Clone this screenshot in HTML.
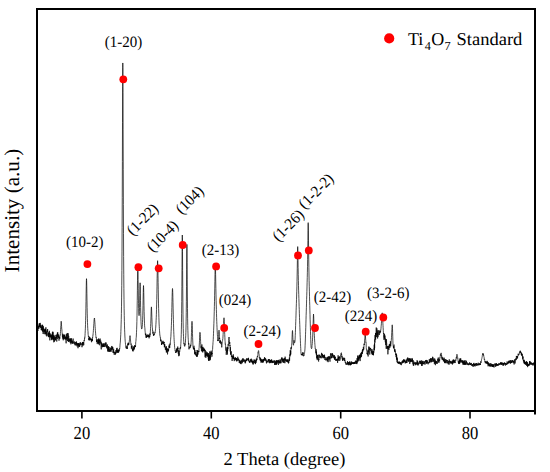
<!DOCTYPE html>
<html><head><meta charset="utf-8"><style>
html,body{margin:0;padding:0;background:#fff;}
svg{display:block;}
text{font-family:"Liberation Serif",serif;fill:#000;text-rendering:geometricPrecision;}
</style></head><body>
<svg width="550" height="472" viewBox="0 0 550 472">
<rect x="0" y="0" width="550" height="472" fill="#fff"/>
<defs><filter id="bl" x="-5%" y="-5%" width="110%" height="110%"><feGaussianBlur stdDeviation="0.3"/></filter></defs>
<polyline points="37.00,328.29 37.12,328.99 37.25,327.97 37.38,326.95 37.50,327.60 37.62,326.81 37.75,328.95 37.88,331.01 38.00,326.96 38.12,325.97 38.25,328.66 38.38,328.42 38.50,328.04 38.62,326.03 38.75,327.59 38.88,328.75 39.00,324.62 39.12,326.07 39.25,323.23 39.38,324.61 39.50,323.66 39.62,327.11 39.75,324.84 39.88,327.20 40.00,326.99 40.12,326.31 40.25,322.90 40.38,325.94 40.50,327.56 40.62,327.97 40.75,324.88 40.88,326.79 41.00,325.46 41.12,325.56 41.25,330.14 41.38,326.57 41.50,328.37 41.62,330.27 41.75,326.95 41.88,327.82 42.00,328.00 42.12,327.91 42.25,324.71 42.38,327.93 42.50,331.57 42.62,324.96 42.75,330.65 42.88,328.75 43.00,327.76 43.12,333.94 43.25,330.79 43.38,326.23 43.50,328.86 43.62,330.07 43.75,329.10 43.88,331.88 44.00,330.24 44.12,332.15 44.25,334.20 44.38,329.78 44.50,331.19 44.62,329.84 44.75,331.47 44.88,328.68 45.00,330.73 45.12,331.95 45.25,333.42 45.38,334.21 45.50,329.03 45.62,330.65 45.75,334.07 45.88,327.30 46.00,331.21 46.12,332.01 46.25,335.56 46.38,333.85 46.50,331.73 46.62,331.97 46.75,332.36 46.88,336.43 47.00,330.85 47.12,330.34 47.25,331.93 47.38,331.11 47.50,331.28 47.62,329.00 47.75,331.88 47.88,331.79 48.00,335.67 48.12,334.24 48.25,333.36 48.38,334.62 48.50,332.70 48.62,336.70 48.75,334.70 48.88,337.09 49.00,332.62 49.12,337.22 49.25,332.66 49.38,330.84 49.50,334.43 49.62,332.82 49.75,335.19 49.88,340.37 50.00,333.36 50.12,334.40 50.25,336.76 50.38,337.01 50.50,335.16 50.62,335.28 50.75,337.41 50.88,337.20 51.00,333.92 51.12,336.87 51.25,337.62 51.38,335.22 51.50,339.39 51.62,335.61 51.75,340.16 51.88,337.59 52.00,337.81 52.12,335.42 52.25,336.79 52.38,332.31 52.50,334.92 52.62,338.61 52.75,331.58 52.88,339.37 53.00,332.22 53.12,339.45 53.25,335.52 53.38,340.15 53.50,338.98 53.62,335.31 53.75,342.29 53.88,342.12 54.00,338.48 54.12,338.03 54.25,338.82 54.38,336.38 54.50,341.58 54.62,337.84 54.75,338.34 54.88,336.45 55.00,336.09 55.12,334.89 55.25,340.41 55.38,337.77 55.50,340.10 55.62,338.21 55.75,336.98 55.88,337.81 56.00,337.23 56.12,337.53 56.25,337.28 56.38,337.68 56.50,335.18 56.62,336.45 56.75,341.53 56.88,335.43 57.00,334.21 57.12,336.96 57.25,338.99 57.38,332.67 57.50,335.35 57.62,335.02 57.75,332.28 57.88,336.98 58.00,335.07 58.12,335.81 58.25,334.22 58.38,337.45 58.50,336.37 58.62,337.61 58.75,335.51 58.88,335.40 59.00,340.70 59.12,337.17 59.25,338.42 59.38,338.11 59.50,337.45 59.62,336.74 59.75,338.81 59.88,336.76 60.00,335.76 60.12,334.86 60.25,335.20 60.38,333.32 60.50,331.42 60.62,329.25 60.75,327.15 60.88,325.57 61.00,323.35 61.12,321.44 61.20,321.21 61.25,321.44 61.38,322.81 61.50,324.87 61.62,326.54 61.75,329.14 61.88,329.17 62.00,331.81 62.12,332.73 62.25,334.08 62.38,336.70 62.50,337.22 62.62,334.32 62.75,333.83 62.88,338.73 63.00,335.82 63.12,338.55 63.25,340.28 63.38,336.09 63.50,334.64 63.62,339.03 63.75,338.11 63.88,336.98 64.00,337.75 64.12,336.07 64.25,334.67 64.38,337.51 64.50,336.56 64.62,334.82 64.75,339.33 64.88,337.92 65.00,338.87 65.12,336.27 65.25,338.01 65.38,337.41 65.50,337.29 65.62,339.33 65.75,337.00 65.88,339.87 66.00,339.52 66.12,343.32 66.25,334.35 66.38,339.59 66.50,337.43 66.62,337.23 66.75,333.59 66.88,336.48 67.00,338.97 67.12,337.49 67.25,338.33 67.38,336.77 67.50,341.03 67.62,337.79 67.75,332.99 67.88,336.53 68.00,333.41 68.12,334.22 68.25,337.71 68.38,341.90 68.50,338.96 68.62,335.78 68.75,336.18 68.88,341.65 69.00,338.94 69.12,338.84 69.25,338.87 69.38,339.52 69.50,341.16 69.62,340.46 69.75,340.64 69.88,338.44 70.00,341.53 70.12,339.74 70.25,342.89 70.38,338.37 70.50,340.34 70.62,341.03 70.75,339.08 70.88,344.30 71.00,344.13 71.12,341.18 71.25,343.08 71.38,342.29 71.50,338.29 71.62,341.91 71.75,341.77 71.88,342.20 72.00,340.53 72.12,341.67 72.25,341.38 72.38,343.56 72.50,342.17 72.62,341.55 72.75,343.50 72.88,340.67 73.00,340.79 73.12,338.57 73.25,343.49 73.38,342.63 73.50,342.83 73.62,342.42 73.75,342.06 73.88,341.96 74.00,341.42 74.12,341.34 74.25,342.02 74.38,344.16 74.50,343.06 74.62,342.62 74.75,341.84 74.88,341.99 75.00,345.24 75.12,343.95 75.25,343.30 75.38,343.15 75.50,342.10 75.62,343.84 75.75,345.37 75.88,343.70 76.00,343.95 76.12,343.57 76.25,344.07 76.38,341.41 76.50,343.59 76.62,342.62 76.75,345.36 76.88,342.93 77.00,345.06 77.12,346.48 77.25,343.77 77.38,343.49 77.50,345.02 77.62,345.10 77.75,343.34 77.88,345.89 78.00,348.24 78.12,344.71 78.25,344.76 78.38,343.32 78.50,345.54 78.62,343.28 78.75,343.49 78.88,346.83 79.00,343.20 79.12,345.85 79.25,346.37 79.38,344.37 79.50,344.90 79.62,346.83 79.75,343.99 79.88,343.57 80.00,342.56 80.12,343.99 80.25,345.30 80.38,344.38 80.50,342.41 80.62,342.41 80.75,343.33 80.88,344.72 81.00,343.88 81.12,344.31 81.25,344.36 81.38,343.44 81.50,344.00 81.62,344.53 81.75,344.52 81.88,345.64 82.00,347.23 82.12,345.83 82.25,344.89 82.38,342.36 82.50,345.03 82.62,341.98 82.75,342.86 82.88,345.70 83.00,345.73 83.12,344.38 83.25,341.97 83.38,343.44 83.50,342.56 83.62,343.85 83.75,345.15 83.88,342.48 84.00,341.25 84.12,340.30 84.25,341.02 84.38,340.43 84.50,338.62 84.62,338.98 84.75,336.98 84.88,337.22 85.00,335.55 85.12,333.46 85.25,330.81 85.38,328.18 85.50,324.64 85.62,320.37 85.75,315.19 85.88,308.78 86.00,301.50 86.12,293.97 86.25,286.33 86.38,280.71 86.50,278.68 86.62,280.25 86.75,285.77 86.88,293.18 87.00,300.80 87.12,307.67 87.25,313.88 87.38,318.74 87.50,322.50 87.62,325.79 87.75,328.67 87.88,330.75 88.00,331.49 88.12,334.24 88.25,335.09 88.38,336.54 88.50,336.08 88.62,336.79 88.75,336.50 88.88,340.01 89.00,338.34 89.12,340.42 89.25,337.89 89.38,339.01 89.50,336.81 89.62,338.34 89.75,339.81 89.88,337.25 90.00,340.31 90.12,339.76 90.25,338.15 90.38,338.79 90.50,338.92 90.62,339.95 90.75,339.70 90.88,339.30 91.00,340.14 91.12,339.68 91.25,339.70 91.38,341.48 91.50,342.20 91.62,338.63 91.75,340.40 91.88,339.80 92.00,339.44 92.12,341.23 92.25,338.99 92.38,340.78 92.50,337.64 92.62,338.00 92.75,336.64 92.88,335.37 93.00,335.42 93.12,333.57 93.25,332.49 93.38,330.54 93.50,328.66 93.62,327.04 93.75,325.13 93.88,323.38 94.00,321.19 94.12,319.77 94.25,318.39 94.38,318.37 94.40,318.03 94.50,318.13 94.62,319.35 94.75,321.00 94.88,322.29 95.00,324.45 95.12,326.59 95.25,328.51 95.38,330.61 95.50,331.96 95.62,333.20 95.75,335.36 95.88,335.59 96.00,337.61 96.12,337.32 96.25,337.87 96.38,337.56 96.50,342.06 96.62,339.70 96.75,340.52 96.88,340.79 97.00,341.28 97.12,341.48 97.25,344.12 97.38,340.17 97.50,339.44 97.62,340.19 97.75,339.96 97.88,342.86 98.00,342.87 98.12,340.33 98.25,339.62 98.38,341.32 98.50,344.29 98.62,338.47 98.75,343.00 98.88,339.49 99.00,343.25 99.12,339.76 99.25,341.22 99.38,339.65 99.50,340.56 99.62,345.24 99.75,344.11 99.88,341.68 100.00,341.01 100.12,338.56 100.25,341.65 100.38,343.44 100.50,343.01 100.62,342.47 100.75,340.61 100.88,343.37 101.00,343.56 101.12,347.71 101.25,349.37 101.38,344.62 101.50,342.42 101.62,344.69 101.75,343.63 101.88,344.15 102.00,346.50 102.12,344.58 102.25,347.27 102.38,345.62 102.50,346.41 102.62,345.01 102.75,343.50 102.88,343.67 103.00,346.16 103.12,345.20 103.25,347.01 103.38,346.10 103.50,343.73 103.62,346.60 103.75,344.94 103.88,345.98 104.00,346.63 104.12,343.17 104.25,347.06 104.38,346.66 104.50,346.02 104.62,345.67 104.75,345.46 104.88,344.24 105.00,344.72 105.12,344.01 105.25,344.84 105.38,342.55 105.50,345.18 105.62,345.29 105.75,345.84 105.88,345.30 106.00,347.06 106.12,342.52 106.25,346.49 106.38,346.33 106.50,347.15 106.62,347.66 106.75,345.59 106.88,346.28 107.00,348.58 107.12,348.59 107.25,347.82 107.38,344.47 107.50,348.65 107.62,350.59 107.75,351.16 107.88,349.79 108.00,347.24 108.12,351.86 108.25,350.15 108.38,346.27 108.50,350.40 108.62,346.54 108.75,346.98 108.88,348.66 109.00,351.47 109.12,348.97 109.25,349.67 109.38,351.99 109.50,351.27 109.62,348.25 109.75,348.09 109.88,347.08 110.00,348.08 110.12,350.45 110.25,350.50 110.38,350.12 110.50,351.55 110.62,348.08 110.75,349.38 110.88,350.75 111.00,350.44 111.12,351.75 111.25,350.07 111.38,348.59 111.50,349.42 111.62,347.10 111.75,345.96 111.88,349.53 112.00,348.50 112.12,349.79 112.25,346.65 112.38,349.05 112.50,348.42 112.62,348.20 112.75,346.99 112.88,350.17 113.00,352.74 113.12,351.68 113.25,350.36 113.38,351.51 113.50,352.96 113.62,348.74 113.75,351.64 113.88,352.45 114.00,353.17 114.12,354.55 114.25,353.77 114.38,352.94 114.50,352.44 114.62,353.15 114.75,351.70 114.88,352.20 115.00,353.17 115.12,355.02 115.25,352.13 115.38,352.17 115.50,352.55 115.62,353.83 115.75,351.58 115.88,353.36 116.00,350.01 116.12,350.98 116.25,350.53 116.38,351.88 116.50,352.62 116.62,348.38 116.75,349.30 116.88,351.38 117.00,349.31 117.12,347.83 117.25,352.08 117.38,351.52 117.50,351.74 117.62,350.21 117.75,352.81 117.88,350.64 118.00,352.85 118.12,349.61 118.25,349.73 118.38,351.49 118.50,350.33 118.62,352.43 118.75,351.56 118.88,349.62 119.00,350.68 119.12,350.47 119.25,351.24 119.38,349.20 119.50,348.47 119.62,349.28 119.75,348.70 119.88,347.35 120.00,345.12 120.12,343.88 120.25,342.91 120.38,340.99 120.50,339.03 120.62,337.07 120.75,334.68 120.88,331.59 121.00,328.12 121.12,324.11 121.25,319.65 121.38,313.46 121.50,306.18 121.62,297.08 121.75,285.48 121.88,270.55 122.00,251.90 122.12,227.70 122.25,197.70 122.38,161.46 122.50,122.27 122.62,86.21 122.75,64.94 122.80,62.96 122.88,67.56 123.00,92.74 123.12,129.84 123.25,169.28 123.38,204.43 123.50,233.74 123.62,256.50 123.75,274.29 123.88,288.47 124.00,299.76 124.12,308.26 124.25,315.32 124.38,321.33 124.50,325.88 124.62,329.83 124.75,332.87 124.88,336.00 125.00,338.24 125.12,340.04 125.25,341.81 125.38,342.77 125.50,344.58 125.62,345.24 125.75,346.60 125.88,347.43 126.00,347.45 126.12,346.67 126.25,348.47 126.38,347.80 126.50,348.15 126.62,347.74 126.75,347.68 126.88,345.66 127.00,348.75 127.12,347.59 127.25,347.94 127.38,348.76 127.50,346.71 127.62,344.28 127.75,344.62 127.88,343.53 128.00,343.80 128.12,344.94 128.25,342.68 128.38,345.27 128.50,343.10 128.62,344.92 128.75,344.64 128.88,344.48 129.00,344.08 129.12,342.70 129.25,341.87 129.38,340.08 129.50,339.72 129.62,338.89 129.75,337.31 129.88,336.08 130.00,335.63 130.12,335.78 130.25,337.31 130.38,338.34 130.50,339.86 130.62,341.10 130.75,342.72 130.88,343.03 131.00,344.54 131.12,343.78 131.25,345.11 131.38,348.75 131.50,345.96 131.62,346.25 131.75,347.38 131.88,347.64 132.00,345.45 132.12,347.58 132.25,349.49 132.38,349.10 132.50,348.98 132.62,351.09 132.75,348.30 132.88,349.56 133.00,349.29 133.12,351.42 133.25,346.76 133.38,348.56 133.50,348.52 133.62,349.61 133.75,349.07 133.88,350.11 134.00,346.19 134.12,349.07 134.25,347.84 134.38,347.13 134.50,348.50 134.62,346.78 134.75,345.06 134.88,347.20 135.00,345.76 135.12,346.39 135.25,347.00 135.38,346.31 135.50,346.87 135.62,344.53 135.75,341.80 135.88,341.48 136.00,340.07 136.12,338.35 136.25,337.35 136.38,335.00 136.50,332.30 136.62,329.76 136.75,325.98 136.88,321.52 137.00,315.81 137.12,308.88 137.25,300.36 137.38,290.79 137.50,280.31 137.62,271.29 137.75,265.89 137.80,264.88 137.88,265.78 138.00,270.97 138.12,279.39 138.25,288.21 138.38,297.01 138.50,303.51 138.62,308.41 138.75,312.02 138.88,314.57 139.00,315.67 139.12,315.45 139.25,314.21 139.38,311.54 139.50,307.76 139.62,302.12 139.75,295.70 139.88,289.20 140.00,284.53 140.10,282.79 140.12,283.00 140.25,286.41 140.38,293.20 140.50,300.39 140.62,307.51 140.75,313.38 140.88,317.90 141.00,321.46 141.12,324.18 141.25,325.84 141.38,327.34 141.50,328.40 141.62,329.03 141.75,329.07 141.88,328.55 142.00,328.42 142.12,327.85 142.25,326.59 142.38,324.82 142.50,322.44 142.62,319.78 142.75,315.81 142.88,310.96 143.00,305.32 143.12,299.21 143.25,292.60 143.38,287.76 143.50,285.59 143.62,287.76 143.75,292.47 143.88,298.97 144.00,305.87 144.12,311.47 144.25,316.09 144.38,320.06 144.50,323.23 144.62,325.82 144.75,327.26 144.88,328.14 145.00,330.18 145.12,331.28 145.25,332.76 145.38,334.77 145.50,334.35 145.62,335.28 145.75,333.58 145.88,336.07 146.00,337.70 146.12,336.65 146.25,336.09 146.38,335.70 146.50,337.69 146.62,334.81 146.75,335.55 146.88,336.80 147.00,337.18 147.12,335.66 147.25,336.80 147.38,336.03 147.50,336.32 147.62,335.74 147.75,334.50 147.88,335.90 148.00,336.89 148.12,334.91 148.25,336.03 148.38,336.91 148.50,335.26 148.62,336.43 148.75,334.80 148.88,337.17 149.00,338.30 149.12,338.30 149.25,335.78 149.38,336.77 149.50,335.81 149.62,335.64 149.75,337.07 149.88,333.51 150.00,335.25 150.12,333.78 150.25,333.75 150.38,331.08 150.50,328.73 150.62,326.60 150.75,323.68 150.88,320.06 151.00,316.13 151.12,311.85 151.25,308.16 151.38,306.98 151.40,306.88 151.50,307.43 151.62,310.05 151.75,314.00 151.88,317.65 152.00,321.15 152.12,324.18 152.25,326.90 152.38,327.68 152.50,330.70 152.62,330.36 152.75,330.63 152.88,333.58 153.00,332.63 153.12,331.76 153.25,333.17 153.38,335.26 153.50,335.74 153.62,334.31 153.75,335.34 153.88,335.39 154.00,333.99 154.12,335.12 154.25,334.50 154.38,333.86 154.50,333.57 154.62,333.92 154.75,333.37 154.88,332.27 155.00,331.98 155.12,332.53 155.25,331.37 155.38,330.86 155.50,329.89 155.62,328.30 155.75,327.04 155.88,324.66 156.00,322.95 156.12,320.27 156.25,317.79 156.38,314.30 156.50,309.51 156.62,304.91 156.75,299.59 156.88,293.30 157.00,286.20 157.12,278.63 157.25,271.70 157.38,265.85 157.50,261.88 157.60,261.19 157.62,260.70 157.75,263.53 157.88,268.19 158.00,275.21 158.12,282.49 158.25,289.79 158.38,297.05 158.50,303.15 158.62,308.59 158.75,313.20 158.88,317.52 159.00,320.99 159.12,324.04 159.25,326.28 159.38,328.67 159.50,330.34 159.62,331.96 159.75,333.85 159.88,335.36 160.00,335.34 160.12,336.29 160.25,337.22 160.38,338.05 160.50,337.75 160.62,340.69 160.75,339.65 160.88,340.87 161.00,339.84 161.12,341.84 161.25,341.97 161.38,341.44 161.50,344.91 161.62,343.08 161.75,344.74 161.88,343.83 162.00,341.85 162.12,342.18 162.25,343.40 162.38,343.51 162.50,343.63 162.62,343.22 162.75,341.61 162.88,343.26 163.00,340.81 163.12,343.91 163.25,342.73 163.38,342.98 163.50,343.80 163.62,344.45 163.75,342.46 163.88,342.19 164.00,343.00 164.12,341.92 164.25,343.24 164.38,347.35 164.50,344.15 164.62,346.64 164.75,344.23 164.88,346.60 165.00,346.00 165.12,346.88 165.25,347.78 165.38,349.75 165.50,348.15 165.62,347.95 165.75,346.92 165.88,349.32 166.00,348.37 166.12,350.31 166.25,349.20 166.38,352.57 166.50,346.34 166.62,349.56 166.75,351.82 166.88,349.66 167.00,348.88 167.12,350.27 167.25,348.32 167.38,350.90 167.50,354.39 167.62,353.35 167.75,349.02 167.88,349.21 168.00,349.90 168.12,351.64 168.25,348.70 168.38,348.99 168.50,351.02 168.62,350.52 168.75,348.45 168.88,346.98 169.00,345.95 169.12,346.70 169.25,344.59 169.38,348.10 169.50,346.30 169.62,347.23 169.75,347.82 169.88,346.28 170.00,343.58 170.12,344.63 170.25,343.81 170.38,341.72 170.50,340.74 170.62,339.79 170.75,337.98 170.88,336.70 171.00,333.95 171.12,331.63 171.25,328.95 171.38,325.65 171.50,321.85 171.62,317.45 171.75,312.45 171.88,307.40 172.00,301.32 172.12,296.55 172.25,292.18 172.38,289.50 172.50,288.54 172.62,289.51 172.75,292.59 172.88,297.40 173.00,302.65 173.12,308.11 173.25,314.17 173.38,319.34 173.50,323.39 173.62,327.90 173.75,331.81 173.88,334.74 174.00,337.36 174.12,339.68 174.25,341.74 174.38,343.55 174.50,345.12 174.62,347.22 174.75,347.92 174.88,349.20 175.00,349.35 175.12,350.62 175.25,350.28 175.38,351.00 175.50,352.93 175.62,352.25 175.75,352.57 175.88,352.24 176.00,351.62 176.12,351.28 176.25,350.63 176.38,351.88 176.50,348.95 176.62,352.47 176.75,350.07 176.88,348.55 177.00,348.22 177.12,347.93 177.25,349.45 177.38,348.21 177.50,351.47 177.62,348.11 177.75,346.55 177.88,349.13 178.00,347.94 178.12,351.09 178.25,353.71 178.38,353.46 178.50,350.39 178.62,351.96 178.75,356.19 178.88,353.57 179.00,352.71 179.12,354.44 179.25,355.47 179.38,353.62 179.50,350.80 179.62,351.29 179.75,351.50 179.88,349.37 180.00,348.32 180.12,349.18 180.25,347.53 180.38,347.94 180.50,347.46 180.62,348.27 180.75,344.61 180.88,343.32 181.00,341.10 181.12,338.28 181.25,334.53 181.38,329.16 181.50,322.45 181.62,313.29 181.75,301.54 181.88,286.35 182.00,267.40 182.12,248.21 182.25,236.20 182.30,235.05 182.38,237.62 182.50,251.28 182.62,270.53 182.75,288.24 182.88,302.96 183.00,314.77 183.12,322.06 183.25,328.61 183.38,333.33 183.50,336.56 183.62,339.10 183.75,341.27 183.88,343.05 184.00,344.00 184.12,343.32 184.25,345.35 184.38,344.82 184.50,345.44 184.62,346.33 184.75,346.44 184.88,346.18 185.00,344.43 185.12,345.08 185.25,344.20 185.38,342.72 185.50,340.95 185.62,338.36 185.75,335.62 185.88,332.46 186.00,327.08 186.12,321.21 186.25,312.56 186.38,301.32 186.50,286.27 186.62,269.16 186.75,253.04 186.88,244.57 186.90,244.36 187.00,248.40 187.12,262.57 187.25,279.83 187.38,296.04 187.50,308.43 187.62,318.24 187.75,325.65 187.88,330.36 188.00,333.88 188.12,337.13 188.25,339.26 188.38,340.79 188.50,344.10 188.62,344.47 188.75,343.21 188.88,347.39 189.00,349.32 189.12,346.73 189.25,346.46 189.38,347.01 189.50,347.90 189.62,347.98 189.75,348.20 189.88,347.86 190.00,347.18 190.12,347.78 190.25,347.52 190.38,344.74 190.50,346.38 190.62,346.59 190.75,345.94 190.88,345.99 191.00,344.76 191.12,342.26 191.25,339.94 191.38,336.37 191.50,332.52 191.62,328.76 191.75,325.30 191.88,322.78 192.00,321.33 192.12,322.79 192.25,325.64 192.38,329.25 192.50,333.58 192.62,337.73 192.75,340.98 192.88,343.94 193.00,347.39 193.12,347.73 193.25,347.66 193.38,349.05 193.50,349.26 193.62,347.66 193.75,348.77 193.88,346.58 194.00,345.76 194.12,348.36 194.25,349.99 194.38,347.96 194.50,350.59 194.62,350.22 194.75,354.37 194.88,349.88 195.00,353.79 195.12,351.83 195.25,352.09 195.38,353.51 195.50,354.06 195.62,355.26 195.75,354.04 195.88,352.43 196.00,352.24 196.12,354.88 196.25,354.61 196.38,356.07 196.50,354.60 196.62,355.87 196.75,356.96 196.88,354.16 197.00,350.41 197.12,351.08 197.25,349.99 197.38,356.57 197.50,351.02 197.62,354.42 197.75,353.08 197.88,354.66 198.00,352.76 198.12,351.24 198.25,351.49 198.38,352.30 198.50,351.95 198.62,350.72 198.75,350.95 198.88,352.13 199.00,348.16 199.12,347.77 199.25,345.00 199.38,342.86 199.50,340.28 199.62,337.18 199.75,334.81 199.88,332.34 200.00,332.36 200.12,332.51 200.25,334.49 200.38,336.78 200.50,338.80 200.62,341.72 200.75,344.22 200.88,347.04 201.00,347.85 201.12,348.32 201.25,346.23 201.38,350.63 201.50,350.91 201.62,347.18 201.75,347.15 201.88,344.43 202.00,348.78 202.12,351.77 202.25,349.69 202.38,350.83 202.50,349.64 202.62,347.18 202.75,352.45 202.88,346.83 203.00,348.85 203.12,349.93 203.25,351.17 203.38,350.09 203.50,350.21 203.62,348.65 203.75,347.89 203.88,350.97 204.00,349.60 204.12,348.67 204.25,348.92 204.38,351.19 204.50,349.23 204.62,350.55 204.75,349.58 204.88,353.00 205.00,353.99 205.12,357.24 205.25,350.10 205.38,352.31 205.50,356.01 205.62,354.04 205.75,353.24 205.88,357.76 206.00,353.43 206.12,351.72 206.25,351.48 206.38,355.34 206.50,355.52 206.62,352.56 206.75,353.20 206.88,355.63 207.00,355.58 207.12,354.06 207.25,356.27 207.38,355.89 207.50,352.51 207.62,355.19 207.75,356.75 207.88,355.32 208.00,353.42 208.12,356.40 208.25,358.34 208.38,359.49 208.50,353.26 208.62,360.75 208.75,355.14 208.88,360.04 209.00,360.84 209.12,360.57 209.25,358.75 209.38,355.39 209.50,358.07 209.62,354.79 209.75,351.42 209.88,360.38 210.00,357.51 210.12,359.90 210.25,354.17 210.38,358.43 210.50,358.15 210.62,357.71 210.75,354.31 210.88,351.83 211.00,354.01 211.12,350.73 211.25,351.42 211.38,354.91 211.50,352.51 211.62,353.26 211.75,353.02 211.88,356.73 212.00,355.73 212.12,352.98 212.25,353.74 212.38,349.84 212.50,349.45 212.62,349.40 212.75,345.80 212.88,344.87 213.00,342.60 213.12,341.46 213.25,339.38 213.38,336.32 213.50,333.66 213.62,330.32 213.75,327.00 213.88,323.41 214.00,320.10 214.12,316.12 214.25,311.34 214.38,306.36 214.50,301.30 214.62,295.23 214.75,288.92 214.88,281.65 215.00,274.42 215.12,268.14 215.25,264.24 215.30,263.86 215.38,264.20 215.50,268.55 215.62,274.76 215.75,281.99 215.88,288.54 216.00,294.85 216.12,300.35 216.25,304.95 216.38,309.50 216.50,313.60 216.62,317.69 216.75,321.40 216.88,324.52 217.00,327.25 217.12,330.22 217.25,332.03 217.38,334.75 217.50,336.03 217.62,336.77 217.75,340.15 217.88,341.10 218.00,339.84 218.12,340.95 218.25,340.37 218.38,339.99 218.50,337.52 218.62,336.57 218.75,334.43 218.88,331.42 219.00,330.18 219.12,331.36 219.25,335.01 219.38,336.41 219.50,339.09 219.62,337.90 219.75,339.63 219.88,343.09 220.00,340.56 220.12,342.58 220.25,341.92 220.38,340.52 220.50,341.66 220.62,341.05 220.75,341.99 220.88,344.04 221.00,343.50 221.12,342.28 221.25,341.92 221.38,344.28 221.50,344.08 221.62,345.68 221.75,347.36 221.88,345.60 222.00,344.19 222.12,343.79 222.25,341.64 222.38,341.01 222.50,340.72 222.62,340.16 222.75,338.97 222.88,338.44 223.00,336.11 223.12,334.43 223.25,331.79 223.38,329.63 223.50,326.36 223.62,323.46 223.75,320.50 223.88,318.78 224.00,317.78 224.12,319.08 224.25,321.71 224.38,324.14 224.50,328.26 224.62,331.79 224.75,334.68 224.88,337.63 225.00,340.57 225.12,341.44 225.25,344.29 225.38,343.83 225.50,344.88 225.62,345.77 225.75,348.25 225.88,349.71 226.00,350.65 226.12,347.24 226.25,354.79 226.38,352.32 226.50,352.01 226.62,350.35 226.75,350.68 226.88,352.27 227.00,352.65 227.12,348.40 227.25,352.53 227.38,354.55 227.50,346.89 227.62,350.94 227.75,349.11 227.88,347.63 228.00,348.62 228.12,344.29 228.25,345.44 228.38,345.64 228.50,342.13 228.62,340.25 228.75,338.99 228.88,337.35 229.00,337.65 229.12,337.15 229.25,339.66 229.38,339.88 229.50,343.47 229.62,344.06 229.75,342.06 229.88,346.20 230.00,345.17 230.12,346.71 230.25,351.53 230.38,347.16 230.50,348.59 230.62,354.34 230.75,352.03 230.88,354.81 231.00,353.17 231.12,351.14 231.25,353.41 231.38,356.83 231.50,356.74 231.62,355.51 231.75,356.45 231.88,356.18 232.00,355.72 232.12,360.95 232.25,356.97 232.38,355.72 232.50,356.65 232.62,358.81 232.75,358.80 232.88,357.42 233.00,356.21 233.12,357.40 233.25,354.34 233.38,355.06 233.50,358.66 233.62,356.39 233.75,358.09 233.88,359.17 234.00,358.51 234.12,357.88 234.25,361.14 234.38,359.21 234.50,358.01 234.62,359.81 234.75,359.69 234.88,358.38 235.00,359.38 235.12,359.01 235.25,357.13 235.38,359.96 235.50,359.95 235.62,359.74 235.75,357.89 235.88,359.66 236.00,360.20 236.12,360.37 236.25,358.43 236.38,360.47 236.50,358.05 236.62,359.88 236.75,361.45 236.88,358.70 237.00,358.57 237.12,360.53 237.25,358.78 237.38,358.89 237.50,359.33 237.62,360.48 237.75,356.75 237.88,358.57 238.00,358.38 238.12,358.34 238.25,358.68 238.38,358.50 238.50,360.20 238.62,358.83 238.75,360.19 238.88,360.68 239.00,359.61 239.12,360.73 239.25,362.86 239.38,361.40 239.50,360.55 239.62,361.23 239.75,360.45 239.88,362.27 240.00,363.08 240.12,361.15 240.25,361.78 240.38,363.84 240.50,361.94 240.62,362.59 240.75,360.81 240.88,360.91 241.00,361.14 241.12,364.17 241.25,360.48 241.38,360.19 241.50,359.75 241.62,360.28 241.75,361.35 241.88,360.47 242.00,363.31 242.12,360.93 242.25,362.56 242.38,360.81 242.50,361.07 242.62,358.65 242.75,360.37 242.88,360.43 243.00,360.51 243.12,358.31 243.25,361.93 243.38,360.23 243.50,359.80 243.62,359.92 243.75,359.79 243.88,360.77 244.00,359.24 244.12,359.65 244.25,361.44 244.38,361.10 244.50,360.73 244.62,360.28 244.75,360.16 244.88,361.05 245.00,362.44 245.12,360.11 245.25,363.35 245.38,362.58 245.50,360.92 245.62,362.31 245.75,359.61 245.88,359.54 246.00,359.75 246.12,360.87 246.25,360.72 246.38,360.25 246.50,360.96 246.62,358.34 246.75,361.11 246.88,359.22 247.00,359.70 247.12,359.97 247.25,358.96 247.38,358.54 247.50,358.89 247.62,359.55 247.75,359.97 247.88,360.15 248.00,358.78 248.12,358.98 248.25,358.70 248.38,360.11 248.50,357.84 248.62,360.91 248.75,359.69 248.88,359.58 249.00,360.73 249.12,361.94 249.25,361.50 249.38,362.32 249.50,361.35 249.62,362.40 249.75,362.69 249.88,360.86 250.00,362.47 250.12,361.05 250.25,360.86 250.38,359.62 250.50,360.41 250.62,361.50 250.75,359.28 250.88,361.07 251.00,360.83 251.12,361.05 251.25,358.66 251.38,360.89 251.50,361.83 251.62,360.68 251.75,361.60 251.88,359.56 252.00,362.38 252.12,361.31 252.25,362.90 252.38,360.75 252.50,363.32 252.62,362.18 252.75,363.34 252.88,361.39 253.00,361.74 253.12,364.64 253.25,361.43 253.38,361.72 253.50,361.85 253.62,360.81 253.75,363.42 253.88,363.68 254.00,360.55 254.12,359.35 254.25,362.55 254.38,362.43 254.50,362.14 254.62,362.79 254.75,360.26 254.88,361.13 255.00,359.92 255.12,359.96 255.25,362.59 255.38,360.78 255.50,364.11 255.62,361.67 255.75,360.75 255.88,362.20 256.00,363.04 256.12,360.94 256.25,358.80 256.38,360.36 256.50,361.21 256.62,358.82 256.75,358.51 256.88,360.05 257.00,358.78 257.12,356.98 257.25,357.11 257.38,356.12 257.50,356.78 257.62,355.86 257.75,355.85 257.88,354.66 258.00,352.08 258.12,352.28 258.25,351.54 258.38,350.70 258.50,350.80 258.62,350.65 258.75,351.38 258.88,353.66 259.00,353.67 259.12,354.18 259.25,357.43 259.38,357.12 259.50,358.30 259.62,357.75 259.75,358.03 259.88,358.54 260.00,359.39 260.12,360.20 260.25,357.56 260.38,360.48 260.50,358.32 260.62,358.72 260.75,361.25 260.88,360.18 261.00,358.84 261.12,362.84 261.25,359.72 261.38,360.73 261.50,360.66 261.62,361.75 261.75,359.60 261.88,361.78 262.00,359.77 262.12,362.20 262.25,359.55 262.38,359.67 262.50,362.05 262.62,360.02 262.75,360.01 262.88,363.00 263.00,360.79 263.12,359.68 263.25,361.61 263.38,358.96 263.50,361.54 263.62,361.47 263.75,359.43 263.88,359.68 264.00,360.56 264.12,360.42 264.25,358.71 264.38,360.44 264.50,357.20 264.62,359.20 264.75,359.19 264.88,359.32 265.00,360.08 265.12,357.88 265.25,360.36 265.38,359.40 265.50,359.07 265.62,358.57 265.75,359.09 265.88,360.94 266.00,359.48 266.12,361.03 266.25,362.44 266.38,362.57 266.50,363.37 266.62,361.47 266.75,360.44 266.88,362.62 267.00,361.72 267.12,362.30 267.25,360.95 267.38,361.97 267.50,361.69 267.62,361.22 267.75,360.87 267.88,360.64 268.00,360.24 268.12,360.14 268.25,360.57 268.38,359.02 268.50,361.64 268.62,359.58 268.75,360.93 268.88,360.00 269.00,360.07 269.12,362.90 269.25,360.09 269.38,359.00 269.50,359.82 269.62,360.33 269.75,363.26 269.88,361.17 270.00,362.31 270.12,360.15 270.25,361.61 270.38,361.96 270.50,362.90 270.62,360.17 270.75,361.95 270.88,361.89 271.00,359.92 271.12,361.20 271.25,361.18 271.38,359.43 271.50,362.44 271.62,362.08 271.75,361.03 271.88,359.85 272.00,363.11 272.12,361.24 272.25,362.30 272.38,362.83 272.50,361.03 272.62,362.52 272.75,361.41 272.88,361.08 273.00,361.03 273.12,361.19 273.25,362.83 273.38,361.70 273.50,361.83 273.62,361.80 273.75,362.44 273.88,360.54 274.00,360.58 274.12,361.63 274.25,360.62 274.38,361.42 274.50,360.76 274.62,364.85 274.75,363.97 274.88,362.74 275.00,361.87 275.12,364.89 275.25,362.06 275.38,361.33 275.50,362.32 275.62,362.10 275.75,363.58 275.88,361.73 276.00,364.99 276.12,360.57 276.25,362.76 276.38,360.19 276.50,364.45 276.62,361.43 276.75,361.82 276.88,363.73 277.00,363.98 277.12,360.60 277.25,361.79 277.38,360.26 277.50,362.58 277.62,361.97 277.75,361.69 277.88,361.19 278.00,361.71 278.12,361.02 278.25,363.58 278.38,364.99 278.50,359.90 278.62,362.17 278.75,361.58 278.88,362.73 279.00,360.85 279.12,362.32 279.25,360.68 279.38,363.49 279.50,362.50 279.62,362.04 279.75,362.63 279.88,361.19 280.00,359.35 280.12,362.92 280.25,362.44 280.38,361.50 280.50,362.81 280.62,363.31 280.75,359.80 280.88,359.76 281.00,363.20 281.12,362.65 281.25,359.06 281.38,358.60 281.50,359.03 281.62,359.06 281.75,357.45 281.88,359.97 282.00,358.02 282.12,357.72 282.25,360.73 282.38,358.79 282.50,359.75 282.62,361.23 282.75,362.07 282.88,359.84 283.00,360.32 283.12,359.03 283.25,362.92 283.38,360.92 283.50,358.67 283.62,360.47 283.75,361.47 283.88,361.02 284.00,362.76 284.12,361.73 284.25,358.80 284.38,360.06 284.50,358.15 284.62,360.39 284.75,360.16 284.88,363.24 285.00,360.13 285.12,356.67 285.25,359.29 285.38,360.52 285.50,358.74 285.62,359.44 285.75,360.15 285.88,360.91 286.00,360.44 286.12,359.89 286.25,361.77 286.38,360.50 286.50,360.47 286.62,359.78 286.75,360.13 286.88,361.42 287.00,359.23 287.12,360.96 287.25,361.72 287.38,360.48 287.50,361.55 287.62,359.91 287.75,362.35 287.88,362.40 288.00,361.56 288.12,359.25 288.25,360.11 288.38,362.42 288.50,363.44 288.62,361.50 288.75,362.84 288.88,360.42 289.00,360.75 289.12,360.93 289.25,361.06 289.38,357.51 289.50,360.78 289.62,360.60 289.75,355.26 289.88,354.44 290.00,356.34 290.12,354.13 290.25,350.16 290.38,355.15 290.50,352.90 290.62,350.94 290.75,354.48 290.88,350.10 291.00,347.42 291.12,349.18 291.25,347.78 291.38,347.69 291.50,348.00 291.62,345.74 291.75,343.94 291.88,342.17 292.00,339.22 292.12,336.06 292.25,333.03 292.38,330.90 292.50,330.52 292.62,331.48 292.75,334.71 292.88,337.64 293.00,341.49 293.12,342.96 293.25,344.40 293.38,345.09 293.50,345.25 293.62,344.27 293.75,343.45 293.88,342.02 294.00,340.31 294.12,341.17 294.25,342.13 294.38,342.24 294.50,342.85 294.62,342.83 294.75,342.48 294.88,341.92 295.00,341.24 295.12,339.06 295.25,335.32 295.38,332.69 295.50,329.14 295.62,325.50 295.75,321.79 295.88,318.60 296.00,315.08 296.12,310.79 296.25,307.15 296.38,303.67 296.50,299.70 296.62,296.02 296.75,291.23 296.88,286.89 297.00,281.39 297.12,276.12 297.25,268.69 297.38,260.55 297.50,252.98 297.62,247.30 297.70,246.60 297.75,246.73 297.88,251.52 298.00,259.37 298.12,267.62 298.25,274.39 298.38,280.63 298.50,285.71 298.62,290.17 298.75,294.48 298.88,298.46 299.00,302.21 299.12,306.36 299.25,309.59 299.38,313.75 299.50,317.36 299.62,320.74 299.75,324.25 299.88,327.84 300.00,331.34 300.12,334.66 300.25,337.76 300.38,340.87 300.50,343.49 300.62,346.32 300.75,348.59 300.88,351.38 301.00,353.48 301.12,354.08 301.25,354.79 301.38,355.09 301.50,354.64 301.62,355.02 301.75,353.88 301.88,355.01 302.00,355.33 302.12,353.76 302.25,354.70 302.38,354.33 302.50,355.00 302.62,355.06 302.75,355.41 302.88,352.04 303.00,354.25 303.12,352.88 303.25,354.96 303.38,356.18 303.50,356.13 303.62,355.51 303.75,355.74 303.88,355.94 304.00,355.87 304.12,355.74 304.25,354.70 304.38,354.37 304.50,353.52 304.62,352.39 304.75,351.15 304.88,349.96 305.00,348.12 305.12,345.24 305.25,342.06 305.38,338.97 305.50,334.75 305.62,331.77 305.75,327.75 305.88,323.87 306.00,319.82 306.12,315.68 306.25,311.90 306.38,307.78 306.50,303.92 306.62,299.35 306.75,295.80 306.88,291.35 307.00,286.96 307.12,282.36 307.25,277.59 307.38,272.23 307.50,266.29 307.62,259.32 307.75,250.78 307.88,240.59 308.00,230.85 308.12,223.62 308.20,222.65 308.25,223.77 308.38,230.07 308.50,240.14 308.62,250.48 308.75,259.90 308.88,267.71 309.00,275.02 309.12,280.61 309.25,286.24 309.38,291.16 309.50,296.25 309.62,301.27 309.75,305.44 309.88,310.08 310.00,314.45 310.12,319.22 310.25,323.14 310.38,327.42 310.50,331.43 310.62,335.39 310.75,339.54 310.88,343.40 311.00,345.75 311.12,347.44 311.25,348.09 311.38,348.26 311.50,348.76 311.62,348.59 311.75,347.96 311.88,347.76 312.00,345.61 312.12,345.02 312.25,343.63 312.38,341.72 312.50,339.91 312.62,337.80 312.75,334.96 312.88,331.94 313.00,328.31 313.12,323.45 313.25,319.81 313.38,316.07 313.50,314.12 313.62,315.48 313.75,318.40 313.88,322.89 314.00,326.68 314.12,330.15 314.25,333.53 314.38,335.76 314.50,338.30 314.62,340.03 314.75,342.44 314.88,344.29 315.00,345.67 315.12,347.02 315.25,348.90 315.38,348.69 315.50,348.83 315.62,349.30 315.75,351.98 315.88,353.34 316.00,350.44 316.12,349.24 316.25,350.44 316.38,355.20 316.50,351.70 316.62,358.34 316.75,358.33 316.88,355.70 317.00,357.65 317.12,357.69 317.25,360.13 317.38,354.93 317.50,358.66 317.62,355.69 317.75,355.26 317.88,357.04 318.00,356.77 318.12,355.53 318.25,354.70 318.38,356.20 318.50,360.60 318.62,361.52 318.75,358.79 318.88,359.92 319.00,356.99 319.12,357.37 319.25,357.67 319.38,354.79 319.50,354.92 319.62,355.81 319.75,355.66 319.88,354.78 320.00,357.09 320.12,356.00 320.25,357.87 320.38,356.54 320.50,356.17 320.62,357.12 320.75,356.53 320.88,356.23 321.00,356.30 321.12,358.38 321.25,357.31 321.38,357.72 321.50,352.87 321.62,354.75 321.75,354.66 321.88,355.39 322.00,354.29 322.12,354.50 322.25,356.32 322.38,355.44 322.50,353.79 322.62,357.49 322.75,357.23 322.88,355.27 323.00,357.29 323.12,354.96 323.25,358.27 323.38,356.08 323.50,355.44 323.62,355.83 323.75,355.96 323.88,357.74 324.00,357.84 324.12,357.52 324.25,357.07 324.38,354.63 324.50,358.01 324.62,355.55 324.75,358.25 324.88,359.98 325.00,358.58 325.12,358.17 325.25,358.43 325.38,358.09 325.50,357.55 325.62,358.01 325.75,357.61 325.88,360.44 326.00,358.99 326.12,360.07 326.25,359.00 326.38,359.04 326.50,358.66 326.62,359.07 326.75,359.80 326.88,359.38 327.00,357.74 327.12,357.16 327.25,361.40 327.38,357.48 327.50,357.68 327.62,360.56 327.75,359.25 327.88,358.30 328.00,356.64 328.12,362.16 328.25,359.19 328.38,359.17 328.50,358.25 328.62,356.52 328.75,356.21 328.88,359.52 329.00,359.79 329.12,358.73 329.25,357.48 329.38,356.89 329.50,358.76 329.62,356.38 329.75,359.87 329.88,360.53 330.00,361.64 330.12,359.02 330.25,356.66 330.38,355.92 330.50,353.34 330.62,355.89 330.75,356.89 330.88,358.66 331.00,357.73 331.12,357.83 331.25,356.43 331.38,356.55 331.50,358.01 331.62,354.39 331.75,354.86 331.88,353.22 332.00,358.03 332.12,357.43 332.25,356.13 332.38,353.27 332.50,355.67 332.62,354.62 332.75,355.93 332.88,355.69 333.00,356.42 333.12,354.70 333.25,357.18 333.38,356.57 333.50,355.84 333.62,356.24 333.75,356.25 333.88,358.22 334.00,356.65 334.12,357.66 334.25,356.33 334.38,355.10 334.50,359.67 334.62,356.90 334.75,359.30 334.88,359.27 335.00,356.43 335.12,357.49 335.25,358.03 335.38,357.53 335.50,357.27 335.62,360.43 335.75,359.76 335.88,360.50 336.00,359.04 336.12,360.21 336.25,359.20 336.38,360.13 336.50,360.68 336.62,360.13 336.75,359.58 336.88,358.84 337.00,360.36 337.12,360.51 337.25,359.35 337.38,358.78 337.50,360.77 337.62,362.89 337.75,358.85 337.88,359.48 338.00,359.45 338.12,355.30 338.25,358.43 338.38,357.48 338.50,360.64 338.62,357.96 338.75,356.91 338.88,357.78 339.00,358.29 339.12,357.20 339.25,358.06 339.38,356.32 339.50,357.83 339.62,359.39 339.75,360.92 339.88,359.07 340.00,358.56 340.12,359.39 340.25,358.75 340.38,358.36 340.50,356.93 340.62,354.86 340.75,354.23 340.88,353.39 341.00,353.17 341.12,353.13 341.25,353.08 341.38,352.76 341.50,354.70 341.62,354.06 341.75,356.92 341.88,357.39 342.00,355.86 342.12,358.55 342.25,359.12 342.38,358.57 342.50,360.59 342.62,360.92 342.75,357.42 342.88,360.11 343.00,359.55 343.12,359.51 343.25,360.11 343.38,358.18 343.50,358.49 343.62,358.58 343.75,358.42 343.88,359.12 344.00,357.66 344.12,358.60 344.25,360.74 344.38,359.98 344.50,360.79 344.62,358.12 344.75,359.41 344.88,360.13 345.00,361.18 345.12,360.72 345.25,362.69 345.38,361.98 345.50,362.31 345.62,362.47 345.75,363.57 345.88,362.43 346.00,364.71 346.12,363.93 346.25,363.80 346.38,363.60 346.50,363.94 346.62,364.45 346.75,364.61 346.88,363.75 347.00,364.12 347.12,363.44 347.25,364.28 347.38,363.14 347.50,361.17 347.62,364.30 347.75,363.26 347.88,362.49 348.00,363.33 348.12,362.65 348.25,365.12 348.38,363.93 348.50,362.25 348.62,363.81 348.75,363.33 348.88,365.23 349.00,362.80 349.12,361.91 349.25,363.74 349.38,363.08 349.50,362.93 349.62,361.53 349.75,363.62 349.88,365.05 350.00,361.72 350.12,364.67 350.25,362.80 350.38,365.33 350.50,363.61 350.62,363.11 350.75,364.41 350.88,363.96 351.00,363.16 351.12,363.95 351.25,362.86 351.38,361.43 351.50,364.64 351.62,362.75 351.75,362.56 351.88,363.25 352.00,361.94 352.12,361.96 352.25,362.42 352.38,362.27 352.50,362.65 352.62,364.00 352.75,362.66 352.88,363.72 353.00,363.75 353.12,362.41 353.25,363.70 353.38,362.55 353.50,364.08 353.62,363.56 353.75,363.39 353.88,362.31 354.00,363.77 354.12,362.51 354.25,363.71 354.38,362.80 354.50,362.11 354.62,363.67 354.75,363.26 354.88,361.78 355.00,363.91 355.12,362.25 355.25,361.92 355.38,362.00 355.50,360.65 355.62,360.91 355.75,361.36 355.88,363.56 356.00,363.31 356.12,360.86 356.25,363.70 356.38,361.03 356.50,361.29 356.62,361.67 356.75,360.78 356.88,364.11 357.00,360.65 357.12,358.03 357.25,362.66 357.38,359.31 357.50,359.60 357.62,355.57 357.75,361.07 357.88,360.43 358.00,360.66 358.12,360.44 358.25,361.37 358.38,357.27 358.50,359.71 358.62,356.48 358.75,357.41 358.88,360.27 359.00,358.36 359.12,355.08 359.25,358.39 359.38,357.29 359.50,355.51 359.62,358.31 359.75,356.55 359.88,354.80 360.00,355.13 360.12,361.10 360.25,354.41 360.38,357.22 360.50,357.96 360.62,357.28 360.75,353.23 360.88,354.58 361.00,355.57 361.12,357.16 361.25,354.09 361.38,352.37 361.50,356.63 361.62,356.01 361.75,353.52 361.88,351.80 362.00,353.64 362.12,353.15 362.25,353.96 362.38,350.01 362.50,352.74 362.62,351.70 362.75,349.13 362.88,351.32 363.00,350.54 363.12,348.95 363.25,349.95 363.38,346.87 363.50,348.76 363.62,349.24 363.75,348.92 363.88,349.26 364.00,344.93 364.12,343.68 364.25,344.97 364.38,343.86 364.50,343.54 364.62,340.95 364.75,338.61 364.88,337.24 365.00,335.39 365.12,334.36 365.20,334.91 365.25,334.65 365.38,335.53 365.50,337.01 365.62,339.10 365.75,340.36 365.88,342.73 366.00,342.43 366.12,343.13 366.25,347.59 366.38,349.21 366.50,349.06 366.62,349.39 366.75,350.28 366.88,349.79 367.00,354.11 367.12,353.43 367.25,353.12 367.38,353.19 367.50,354.49 367.62,353.40 367.75,354.22 367.88,350.70 368.00,353.75 368.12,356.48 368.25,350.06 368.38,350.63 368.50,352.33 368.62,352.18 368.75,351.48 368.88,346.44 369.00,350.11 369.12,347.08 369.25,347.62 369.38,349.93 369.50,348.80 369.62,350.91 369.75,354.53 369.88,351.70 370.00,351.58 370.12,348.04 370.25,348.61 370.38,347.89 370.50,349.25 370.62,348.44 370.75,349.53 370.88,350.77 371.00,349.79 371.12,349.22 371.25,349.12 371.38,352.22 371.50,351.52 371.62,353.71 371.75,353.24 371.88,351.19 372.00,352.35 372.12,349.33 372.25,355.07 372.38,354.63 372.50,352.46 372.62,351.76 372.75,354.47 372.88,351.14 373.00,353.17 373.12,354.95 373.25,353.90 373.38,352.64 373.50,355.29 373.62,350.88 373.75,352.74 373.88,349.77 374.00,348.56 374.12,349.47 374.25,344.71 374.38,350.35 374.50,343.25 374.62,348.19 374.75,339.29 374.88,342.60 375.00,335.88 375.12,335.04 375.25,339.08 375.38,339.24 375.50,332.94 375.62,339.59 375.75,333.00 375.88,335.47 376.00,335.43 376.12,335.14 376.25,327.52 376.38,337.14 376.50,335.41 376.62,331.92 376.75,329.86 376.88,328.30 377.00,329.20 377.12,334.70 377.25,332.01 377.38,330.40 377.50,332.17 377.62,338.48 377.75,333.30 377.88,332.43 378.00,336.83 378.12,335.38 378.25,334.49 378.38,332.68 378.50,330.31 378.62,331.22 378.75,333.42 378.88,333.50 379.00,334.87 379.12,335.06 379.25,334.72 379.38,334.97 379.50,332.85 379.62,330.51 379.75,333.26 379.88,332.40 380.00,332.70 380.12,333.11 380.25,331.57 380.38,330.93 380.50,331.97 380.62,331.57 380.75,329.77 380.88,329.82 381.00,328.25 381.12,326.54 381.25,325.17 381.38,323.75 381.50,321.15 381.62,319.36 381.75,317.21 381.88,315.36 382.00,313.35 382.12,313.24 382.20,312.84 382.25,312.88 382.38,313.79 382.50,315.75 382.62,317.95 382.75,320.39 382.88,323.29 383.00,325.34 383.12,327.53 383.25,330.24 383.38,332.10 383.50,334.18 383.62,333.26 383.75,336.91 383.88,337.42 384.00,339.85 384.12,335.26 384.25,337.78 384.38,336.72 384.50,333.75 384.62,335.17 384.75,339.26 384.88,335.91 385.00,335.62 385.12,339.96 385.25,341.58 385.38,342.36 385.50,338.70 385.62,340.97 385.75,345.00 385.88,341.41 386.00,341.87 386.12,346.99 386.25,348.90 386.38,341.34 386.50,339.21 386.62,342.62 386.75,343.49 386.88,346.11 387.00,348.32 387.12,346.99 387.25,346.41 387.38,348.61 387.50,346.18 387.62,348.49 387.75,348.35 387.88,354.34 388.00,352.30 388.12,348.31 388.25,347.82 388.38,348.70 388.50,345.85 388.62,347.25 388.75,346.73 388.88,349.97 389.00,346.83 389.12,346.31 389.25,344.60 389.38,344.22 389.50,346.04 389.62,345.39 389.75,347.96 389.88,343.86 390.00,346.36 390.12,344.94 390.25,344.85 390.38,341.26 390.50,342.92 390.62,345.73 390.75,346.25 390.88,344.05 391.00,343.79 391.12,341.90 391.25,340.72 391.38,339.05 391.50,337.57 391.62,335.13 391.75,332.32 391.88,329.63 392.00,327.51 392.12,325.75 392.25,324.84 392.30,325.86 392.38,326.18 392.50,328.48 392.62,332.26 392.75,336.25 392.88,340.31 393.00,344.66 393.12,345.49 393.25,346.55 393.38,346.73 393.50,348.23 393.62,346.17 393.75,348.26 393.88,345.78 394.00,344.59 394.12,346.89 394.25,347.75 394.38,348.87 394.50,351.39 394.62,349.59 394.75,351.18 394.88,349.07 395.00,352.18 395.12,351.47 395.25,350.76 395.38,351.83 395.50,352.97 395.62,353.98 395.75,355.00 395.88,353.80 396.00,354.02 396.12,357.09 396.25,353.55 396.38,355.66 396.50,359.18 396.62,354.86 396.75,357.63 396.88,359.98 397.00,357.37 397.12,362.18 397.25,358.28 397.38,362.36 397.50,362.86 397.62,362.45 397.75,362.01 397.88,362.96 398.00,362.31 398.12,363.56 398.25,361.94 398.38,362.47 398.50,363.49 398.62,361.79 398.75,362.45 398.88,362.96 399.00,361.74 399.12,363.91 399.25,363.22 399.38,361.67 399.50,363.05 399.62,362.27 399.75,362.47 399.88,363.37 400.00,362.67 400.12,364.20 400.25,362.30 400.38,364.21 400.50,363.31 400.62,364.37 400.75,363.03 400.88,362.92 401.00,362.16 401.12,364.01 401.25,364.31 401.38,365.15 401.50,364.10 401.62,362.95 401.75,362.44 401.88,362.30 402.00,361.47 402.12,363.35 402.25,362.53 402.38,360.58 402.50,360.55 402.62,363.07 402.75,361.62 402.88,360.92 403.00,362.67 403.12,361.11 403.25,361.09 403.38,361.01 403.50,359.30 403.62,362.46 403.75,360.38 403.88,360.90 404.00,360.67 404.12,362.18 404.25,361.44 404.38,361.76 404.50,359.95 404.62,361.17 404.75,359.46 404.88,361.71 405.00,361.80 405.12,361.35 405.25,363.41 405.38,361.62 405.50,362.06 405.62,361.69 405.75,361.63 405.88,362.87 406.00,363.08 406.12,360.21 406.25,362.97 406.38,362.16 406.50,362.41 406.62,361.52 406.75,359.37 406.88,359.52 407.00,362.84 407.12,360.82 407.25,358.24 407.38,360.34 407.50,359.36 407.62,357.71 407.75,357.43 407.88,358.06 408.00,360.38 408.12,360.26 408.25,360.00 408.38,360.93 408.50,361.75 408.62,358.29 408.75,360.65 408.88,359.67 409.00,358.77 409.12,359.72 409.25,360.48 409.38,360.28 409.50,358.48 409.62,360.13 409.75,363.96 409.88,359.32 410.00,358.22 410.12,360.83 410.25,361.58 410.38,361.69 410.50,359.20 410.62,362.17 410.75,358.97 410.88,358.64 411.00,359.54 411.12,360.14 411.25,361.44 411.38,361.09 411.50,359.92 411.62,361.47 411.75,359.80 411.88,361.39 412.00,358.07 412.12,358.10 412.25,362.11 412.38,358.94 412.50,361.09 412.62,361.21 412.75,361.04 412.88,361.61 413.00,364.27 413.12,360.10 413.25,363.98 413.38,365.75 413.50,363.04 413.62,362.86 413.75,363.95 413.88,365.36 414.00,361.68 414.12,363.56 414.25,363.19 414.38,363.65 414.50,363.17 414.62,363.55 414.75,362.86 414.88,363.14 415.00,362.44 415.12,362.90 415.25,363.43 415.38,363.65 415.50,362.81 415.62,365.24 415.75,363.56 415.88,362.36 416.00,364.66 416.12,362.94 416.25,363.91 416.38,363.27 416.50,363.44 416.62,363.29 416.75,362.38 416.88,362.58 417.00,364.44 417.12,360.22 417.25,362.62 417.38,363.30 417.50,361.61 417.62,361.13 417.75,365.08 417.88,362.52 418.00,365.52 418.12,363.41 418.25,363.13 418.38,363.48 418.50,363.70 418.62,364.30 418.75,363.21 418.88,362.54 419.00,362.69 419.12,364.04 419.25,363.40 419.38,361.18 419.50,361.26 419.62,362.56 419.75,361.22 419.88,361.40 420.00,360.58 420.12,361.16 420.25,361.71 420.38,362.47 420.50,361.32 420.62,363.90 420.75,361.40 420.88,364.10 421.00,363.27 421.12,362.85 421.25,361.89 421.38,360.36 421.50,362.51 421.62,363.21 421.75,365.82 421.88,362.06 422.00,365.93 422.12,362.99 422.25,364.33 422.38,360.83 422.50,363.02 422.62,362.29 422.75,363.41 422.88,362.64 423.00,361.40 423.12,363.88 423.25,363.19 423.38,362.99 423.50,363.59 423.62,364.09 423.75,362.89 423.88,360.95 424.00,361.12 424.12,364.36 424.25,363.60 424.38,363.09 424.50,362.10 424.62,362.39 424.75,362.37 424.88,362.04 425.00,361.24 425.12,364.50 425.25,362.14 425.38,361.46 425.50,360.22 425.62,360.60 425.75,362.14 425.88,361.61 426.00,360.49 426.12,360.93 426.25,360.90 426.38,359.95 426.50,363.13 426.62,361.86 426.75,363.82 426.88,360.44 427.00,361.72 427.12,363.08 427.25,361.88 427.38,360.57 427.50,361.40 427.62,362.70 427.75,363.11 427.88,362.64 428.00,364.11 428.12,364.32 428.25,363.32 428.38,362.88 428.50,362.25 428.62,363.26 428.75,363.17 428.88,362.18 429.00,362.33 429.12,361.00 429.25,359.03 429.38,359.14 429.50,361.74 429.62,360.92 429.75,363.09 429.88,360.37 430.00,361.32 430.12,362.00 430.25,361.39 430.38,358.81 430.50,359.32 430.62,359.85 430.75,358.08 430.88,360.71 431.00,361.62 431.12,359.16 431.25,362.34 431.38,359.02 431.50,359.05 431.62,358.88 431.75,358.14 431.88,359.64 432.00,359.37 432.12,362.04 432.25,360.22 432.38,360.05 432.50,358.42 432.62,356.75 432.75,358.99 432.88,357.35 433.00,360.75 433.12,358.87 433.25,361.87 433.38,360.88 433.50,360.82 433.62,359.94 433.75,359.97 433.88,360.68 434.00,361.13 434.12,358.37 434.25,361.00 434.38,364.21 434.50,360.62 434.62,360.71 434.75,360.41 434.88,358.74 435.00,362.98 435.12,361.40 435.25,361.85 435.38,364.42 435.50,365.17 435.62,360.28 435.75,363.01 435.88,362.16 436.00,362.12 436.12,361.95 436.25,361.09 436.38,363.77 436.50,362.13 436.62,361.55 436.75,362.90 436.88,362.20 437.00,361.52 437.12,361.55 437.25,363.83 437.38,362.05 437.50,360.75 437.62,359.79 437.75,360.20 437.88,358.76 438.00,360.62 438.12,360.78 438.25,357.53 438.38,360.96 438.50,361.89 438.62,361.43 438.75,359.85 438.88,362.91 439.00,359.99 439.12,358.90 439.25,358.74 439.38,360.03 439.50,360.98 439.62,361.23 439.75,359.19 439.88,357.26 440.00,357.56 440.12,356.49 440.25,356.38 440.38,354.49 440.50,355.40 440.62,355.28 440.75,354.35 440.88,354.19 441.00,353.10 441.12,352.86 441.25,353.96 441.38,355.75 441.50,356.22 441.62,355.42 441.75,357.69 441.88,356.79 442.00,359.38 442.12,358.50 442.25,357.52 442.38,359.63 442.50,358.03 442.62,358.01 442.75,357.53 442.88,359.75 443.00,359.05 443.12,359.43 443.25,359.25 443.38,361.27 443.50,358.83 443.62,358.58 443.75,361.20 443.88,361.37 444.00,360.07 444.12,357.65 444.25,359.21 444.38,361.07 444.50,360.81 444.62,362.86 444.75,359.26 444.88,362.21 445.00,360.75 445.12,363.28 445.25,361.35 445.38,362.70 445.50,360.14 445.62,359.15 445.75,359.63 445.88,360.17 446.00,359.84 446.12,362.10 446.25,362.49 446.38,361.25 446.50,359.85 446.62,360.91 446.75,360.55 446.88,363.31 447.00,362.50 447.12,362.71 447.25,361.59 447.38,360.05 447.50,361.65 447.62,361.52 447.75,363.20 447.88,362.88 448.00,362.01 448.12,362.12 448.25,364.27 448.38,360.97 448.50,360.88 448.62,362.03 448.75,361.75 448.88,361.78 449.00,362.99 449.12,364.62 449.25,359.37 449.38,361.80 449.50,361.43 449.62,361.08 449.75,361.34 449.88,360.88 450.00,363.24 450.12,360.92 450.25,361.13 450.38,361.57 450.50,361.88 450.62,361.39 450.75,363.47 450.88,361.90 451.00,362.51 451.12,363.09 451.25,361.62 451.38,362.21 451.50,361.72 451.62,363.42 451.75,362.31 451.88,361.90 452.00,363.23 452.12,363.54 452.25,360.65 452.38,364.55 452.50,362.36 452.62,361.83 452.75,363.03 452.88,361.38 453.00,360.39 453.12,363.42 453.25,359.55 453.38,360.58 453.50,361.71 453.62,359.81 453.75,360.72 453.88,361.12 454.00,363.13 454.12,359.81 454.25,361.16 454.38,362.11 454.50,361.95 454.62,360.50 454.75,362.61 454.88,361.99 455.00,362.49 455.12,362.91 455.25,362.88 455.38,362.18 455.50,361.58 455.62,359.76 455.75,360.25 455.88,360.43 456.00,359.15 456.12,358.80 456.25,357.33 456.38,358.29 456.50,357.64 456.62,355.45 456.75,355.05 456.88,354.29 457.00,354.71 457.12,354.66 457.25,355.03 457.38,355.59 457.50,356.75 457.62,356.89 457.75,358.99 457.88,358.80 458.00,360.74 458.12,360.73 458.25,362.25 458.38,361.68 458.50,363.24 458.62,361.36 458.75,363.79 458.88,362.91 459.00,363.30 459.12,363.09 459.25,364.05 459.38,360.02 459.50,362.72 459.62,360.59 459.75,363.42 459.88,358.81 460.00,359.60 460.12,358.44 460.25,362.57 460.38,359.28 460.50,360.99 460.62,360.13 460.75,358.42 460.88,360.24 461.00,361.51 461.12,360.30 461.25,361.69 461.38,360.63 461.50,361.13 461.62,360.85 461.75,361.06 461.88,362.76 462.00,360.73 462.12,360.79 462.25,360.35 462.38,360.56 462.50,363.30 462.62,360.64 462.75,361.19 462.88,362.13 463.00,361.77 463.12,364.95 463.25,360.60 463.38,363.50 463.50,363.98 463.62,361.83 463.75,362.12 463.88,363.34 464.00,364.73 464.12,361.79 464.25,360.95 464.38,363.75 464.50,364.53 464.62,362.14 464.75,360.29 464.88,364.63 465.00,362.79 465.12,364.46 465.25,363.09 465.38,362.63 465.50,362.65 465.62,364.67 465.75,364.50 465.88,360.38 466.00,361.66 466.12,364.76 466.25,362.22 466.38,361.16 466.50,362.87 466.62,362.62 466.75,363.21 466.88,362.78 467.00,362.98 467.12,362.81 467.25,363.82 467.38,362.78 467.50,363.42 467.62,363.65 467.75,365.06 467.88,364.10 468.00,363.73 468.12,364.41 468.25,363.88 468.38,364.63 468.50,364.01 468.62,365.18 468.75,364.75 468.88,363.45 469.00,363.17 469.12,364.40 469.25,364.01 469.38,363.64 469.50,362.55 469.62,362.31 469.75,364.20 469.88,364.63 470.00,364.91 470.12,363.38 470.25,365.09 470.38,363.94 470.50,364.57 470.62,364.74 470.75,363.89 470.88,364.09 471.00,362.89 471.12,363.95 471.25,363.13 471.38,365.06 471.50,364.88 471.62,365.47 471.75,365.10 471.88,364.33 472.00,365.41 472.12,364.89 472.25,365.96 472.38,365.73 472.50,364.14 472.62,365.23 472.75,365.29 472.88,364.98 473.00,365.96 473.12,366.97 473.25,364.95 473.38,365.13 473.50,363.52 473.62,365.20 473.75,364.50 473.88,362.89 474.00,365.51 474.12,365.73 474.25,364.45 474.38,364.89 474.50,364.23 474.62,366.02 474.75,363.72 474.88,364.55 475.00,366.49 475.12,364.61 475.25,365.22 475.38,364.65 475.50,363.53 475.62,364.65 475.75,365.03 475.88,363.87 476.00,365.12 476.12,365.70 476.25,365.61 476.38,363.29 476.50,363.68 476.62,363.17 476.75,365.67 476.88,365.31 477.00,365.37 477.12,363.90 477.25,363.70 477.38,364.72 477.50,364.75 477.62,363.97 477.75,364.90 477.88,365.55 478.00,365.23 478.12,363.95 478.25,362.73 478.38,364.38 478.50,364.87 478.62,364.24 478.75,364.07 478.88,363.96 479.00,365.25 479.12,364.28 479.25,364.57 479.38,363.54 479.50,363.85 479.62,364.74 479.75,363.45 479.88,363.10 480.00,363.80 480.12,364.95 480.25,364.04 480.38,364.88 480.50,363.01 480.62,362.68 480.75,361.32 480.88,361.71 481.00,362.82 481.12,361.37 481.25,361.28 481.38,360.78 481.50,359.80 481.62,359.17 481.75,358.64 481.88,358.35 482.00,357.68 482.12,357.08 482.25,356.36 482.38,355.27 482.50,355.03 482.62,354.22 482.75,354.57 482.88,353.07 483.00,353.69 483.12,354.62 483.25,353.94 483.38,353.96 483.50,354.84 483.62,355.97 483.75,355.74 483.88,356.70 484.00,356.88 484.12,357.28 484.25,359.52 484.38,358.95 484.50,358.99 484.62,359.51 484.75,360.62 484.88,361.13 485.00,362.23 485.12,362.08 485.25,361.03 485.38,363.23 485.50,362.77 485.62,362.95 485.75,361.79 485.88,362.31 486.00,362.21 486.12,363.25 486.25,361.97 486.38,363.25 486.50,363.18 486.62,361.58 486.75,362.52 486.88,362.28 487.00,364.03 487.12,360.83 487.25,362.77 487.38,361.75 487.50,363.20 487.62,364.32 487.75,362.71 487.88,363.70 488.00,362.77 488.12,366.32 488.25,364.78 488.38,364.81 488.50,362.48 488.62,362.91 488.75,365.44 488.88,364.21 489.00,364.23 489.12,365.14 489.25,363.26 489.38,365.86 489.50,365.07 489.62,365.70 489.75,364.31 489.88,366.36 490.00,364.90 490.12,366.44 490.25,366.74 490.38,366.10 490.50,365.64 490.62,365.83 490.75,363.03 490.88,366.01 491.00,364.60 491.12,365.06 491.25,364.91 491.38,363.91 491.50,364.51 491.62,365.79 491.75,366.46 491.88,364.75 492.00,364.67 492.12,366.54 492.25,364.54 492.38,366.95 492.50,365.51 492.62,364.54 492.75,366.20 492.88,366.61 493.00,364.15 493.12,366.62 493.25,365.31 493.38,366.88 493.50,365.25 493.62,364.46 493.75,366.39 493.88,366.66 494.00,367.48 494.12,367.30 494.25,366.27 494.38,365.24 494.50,365.12 494.62,365.15 494.75,364.48 494.88,365.04 495.00,363.30 495.12,365.11 495.25,364.75 495.38,366.78 495.50,365.53 495.62,364.45 495.75,365.49 495.88,364.08 496.00,364.46 496.12,363.22 496.25,366.22 496.38,365.19 496.50,363.48 496.62,364.68 496.75,365.63 496.88,365.30 497.00,365.39 497.12,364.36 497.25,364.61 497.38,364.98 497.50,365.56 497.62,364.07 497.75,363.94 497.88,365.65 498.00,364.05 498.12,365.26 498.25,364.65 498.38,364.93 498.50,365.30 498.62,364.36 498.75,364.16 498.88,362.98 499.00,363.35 499.12,364.30 499.25,364.86 499.38,364.73 499.50,365.06 499.62,363.97 499.75,363.71 499.88,364.31 500.00,363.51 500.12,363.45 500.25,363.02 500.38,364.33 500.50,362.65 500.62,363.68 500.75,362.42 500.88,364.35 501.00,363.17 501.12,364.41 501.25,362.56 501.38,363.41 501.50,364.79 501.62,363.10 501.75,363.67 501.88,363.42 502.00,362.22 502.12,364.13 502.25,364.30 502.38,363.36 502.50,364.40 502.62,363.47 502.75,363.57 502.88,364.38 503.00,363.79 503.12,365.98 503.25,363.15 503.38,364.91 503.50,365.16 503.62,362.93 503.75,362.89 503.88,364.38 504.00,363.56 504.12,364.24 504.25,364.60 504.38,363.40 504.50,362.96 504.62,362.34 504.75,364.06 504.88,363.13 505.00,364.20 505.12,364.25 505.25,363.07 505.38,365.64 505.50,365.24 505.62,365.11 505.75,363.49 505.88,364.27 506.00,364.14 506.12,363.94 506.25,363.42 506.38,364.70 506.50,364.19 506.62,364.35 506.75,363.45 506.88,364.71 507.00,363.60 507.12,361.42 507.25,362.73 507.38,363.00 507.50,363.91 507.62,362.78 507.75,362.74 507.88,362.45 508.00,363.78 508.12,362.13 508.25,362.07 508.38,361.92 508.50,363.22 508.62,362.09 508.75,360.76 508.88,362.83 509.00,361.35 509.12,362.29 509.25,361.80 509.38,362.37 509.50,362.19 509.62,360.96 509.75,361.45 509.88,360.38 510.00,363.21 510.12,362.12 510.25,363.29 510.38,361.87 510.50,360.27 510.62,363.43 510.75,362.58 510.88,362.54 511.00,362.39 511.12,362.63 511.25,362.38 511.38,360.48 511.50,362.83 511.62,361.40 511.75,361.24 511.88,362.88 512.00,362.52 512.12,361.72 512.25,360.13 512.38,361.68 512.50,361.87 512.62,361.33 512.75,360.34 512.88,361.25 513.00,360.79 513.12,362.18 513.25,362.82 513.38,363.09 513.50,360.97 513.62,361.58 513.75,361.81 513.88,360.87 514.00,361.47 514.12,364.49 514.25,362.15 514.38,362.66 514.50,360.62 514.62,361.10 514.75,359.19 514.88,361.15 515.00,362.18 515.12,363.45 515.25,362.40 515.38,361.08 515.50,360.18 515.62,359.18 515.75,359.57 515.88,359.81 516.00,358.19 516.12,360.11 516.25,357.49 516.38,355.93 516.50,356.92 516.62,356.05 516.75,356.42 516.88,359.00 517.00,357.05 517.12,357.26 517.25,358.06 517.38,358.19 517.50,355.96 517.62,357.56 517.75,356.34 517.88,356.01 518.00,355.92 518.12,353.81 518.25,354.05 518.38,354.73 518.50,355.35 518.62,354.00 518.75,354.05 518.88,354.47 519.00,354.59 519.12,353.86 519.25,354.11 519.38,352.42 519.50,352.40 519.62,352.64 519.75,352.15 519.88,351.52 520.00,352.54 520.12,351.37 520.25,350.69 520.30,351.76 520.38,352.52 520.50,351.63 520.62,352.50 520.75,351.79 520.88,351.88 521.00,351.90 521.12,352.48 521.25,354.66 521.38,352.77 521.50,355.51 521.62,353.54 521.75,354.02 521.88,355.39 522.00,355.47 522.12,355.37 522.25,353.81 522.38,356.42 522.50,355.62 522.62,359.40 522.75,356.87 522.88,357.55 523.00,356.43 523.12,357.79 523.25,357.69 523.38,361.21 523.50,359.99 523.62,361.29 523.75,360.23 523.88,360.82 524.00,363.34 524.12,360.62 524.25,359.80 524.38,363.19 524.50,360.95 524.62,362.23 524.75,363.88 524.88,361.88 525.00,363.69 525.12,362.24 525.25,364.66 525.38,364.49 525.50,362.56 525.62,362.82 525.75,362.31 525.88,363.31 526.00,364.77 526.12,361.64 526.25,364.39 526.38,361.67 526.50,362.53 526.62,361.35 526.75,365.92 526.88,363.80 527.00,364.25 527.12,363.41 527.25,365.53 527.38,362.04 527.50,364.49 527.62,367.14 527.75,364.46 527.88,365.17 528.00,365.76 528.12,364.05 528.25,365.02 528.38,366.05 528.50,364.66 528.62,364.75 528.75,363.78 528.88,364.81 529.00,364.27 529.12,365.81 529.25,364.91 529.38,363.72 529.50,361.24 529.62,364.68 529.75,364.48 529.88,362.05 530.00,360.98 530.12,361.68 530.25,364.18 530.38,362.12 530.50,362.71 530.62,363.44 530.75,364.41 530.88,363.14 531.00,363.10 531.12,362.68 531.25,364.76 531.38,364.47 531.50,363.38 531.62,362.59 531.75,363.08 531.88,364.10 532.00,363.31 532.12,364.48 532.25,364.13 532.38,364.03 532.50,364.51 532.62,364.27 532.75,363.29 532.88,363.75 533.00,365.62 533.12,363.03 533.25,363.61 533.38,364.62 533.50,363.52 533.62,362.99 533.75,362.49 533.88,363.90 534.00,364.22" fill="none" stroke="#000" stroke-width="0.7" stroke-linejoin="round" filter="url(#bl)"/>
<g stroke="#000" stroke-width="2" fill="none">
<path d="M37,9 H535 V414.5 M535,411 H37 V8"/>
<path d="M81.9,412 V418.5 M211.3,412 V418.5 M340.7,412 V418.5 M470,412 V418.5" stroke-width="1.6"/>
</g>
<circle cx="123.3" cy="79.3" r="3.9" fill="#ff0000"/>
<circle cx="87.4" cy="264.1" r="3.9" fill="#ff0000"/>
<circle cx="138.4" cy="267.2" r="3.9" fill="#ff0000"/>
<circle cx="158.7" cy="268.3" r="3.9" fill="#ff0000"/>
<circle cx="182.7" cy="245" r="3.9" fill="#ff0000"/>
<circle cx="216.1" cy="266.4" r="3.9" fill="#ff0000"/>
<circle cx="224.2" cy="327.9" r="3.9" fill="#ff0000"/>
<circle cx="258.5" cy="344" r="3.9" fill="#ff0000"/>
<circle cx="298" cy="255.4" r="3.9" fill="#ff0000"/>
<circle cx="308.8" cy="250.4" r="3.9" fill="#ff0000"/>
<circle cx="315" cy="328" r="3.9" fill="#ff0000"/>
<circle cx="365.7" cy="331.7" r="3.9" fill="#ff0000"/>
<circle cx="383.3" cy="317.5" r="3.9" fill="#ff0000"/>
<circle cx="389.2" cy="38.4" r="5.1" fill="#ff0000"/>
<g font-size="17.5" text-anchor="middle">
<text transform="translate(81.9,438.6) scale(0.947,1.06)">20</text><text transform="translate(211.3,438.6) scale(0.947,1.06)">40</text><text transform="translate(340.7,438.6) scale(0.947,1.06)">60</text><text transform="translate(470,438.6) scale(0.947,1.06)">80</text>
</g>
<text x="284.5" y="464.7" font-size="18.5" text-anchor="middle">2 Theta (degree)</text>
<text transform="translate(19.4,210.6) rotate(-90)" font-size="21.1" text-anchor="middle">Intensity (a.u.)</text>
<text x="408" y="45" font-size="18">Ti</text><text x="424.8" y="49.5" font-size="12.3">4</text><text x="431.2" y="45" font-size="18">O</text><text x="444.4" y="50" font-size="12.3">7</text><text x="456.5" y="45" font-size="18" textLength="65.8" lengthAdjust="spacingAndGlyphs">Standard</text>
<g font-size="15">
<text transform="translate(123.4,47) scale(1,1.05)" text-anchor="middle">(1-20)</text>
<text transform="translate(84.8,246.8) scale(1,1.05)" text-anchor="middle">(10-2)</text>
<text transform="translate(220.4,254.8) scale(1,1.05)" text-anchor="middle">(2-13)</text>
<text transform="translate(235,304.8) scale(1,1.05)" text-anchor="middle">(024)</text>
<text transform="translate(262.2,335.6) scale(1,1.05)" text-anchor="middle">(2-24)</text>
<text transform="translate(332.5,301.8) scale(1,1.05)" text-anchor="middle">(2-42)</text>
<text transform="translate(361.1,320.5) scale(1,1.05)" text-anchor="middle">(224)</text>
<text transform="translate(388.3,297.9) scale(1,1.05)" text-anchor="middle">(3-2-6)</text>
<text transform="translate(142.4,219.2) rotate(-45) scale(1,1.05)" text-anchor="middle" dy="5">(1-22)</text>
<text transform="translate(162.4,235.9) rotate(-45) scale(1,1.05)" text-anchor="middle" dy="5">(10-4)</text>
<text transform="translate(189.5,199.9) rotate(-45) scale(1,1.05)" text-anchor="middle" dy="5">(104)</text>
<text transform="translate(288.0,225.3) rotate(-45) scale(1,1.05)" text-anchor="middle" dy="5">(1-26)</text>
<text transform="translate(315.9,191.1) rotate(-45) scale(1,1.05)" text-anchor="middle" dy="5">(1-2-2)</text>
</g>
</svg>
</body></html>
